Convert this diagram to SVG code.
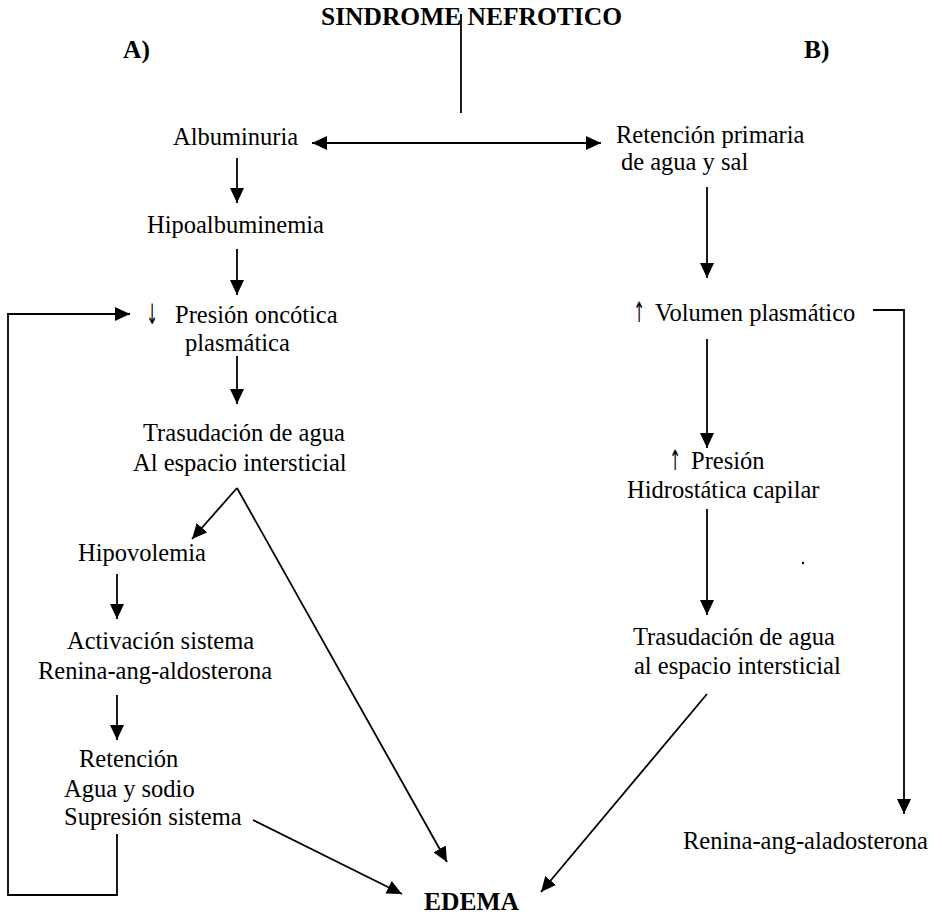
<svg xmlns="http://www.w3.org/2000/svg" width="942" height="917" viewBox="0 0 942 917">
<style>
text{font-family:"Liberation Serif","Times New Roman",serif;font-size:24.5px;fill:#000}
.b{font-weight:bold;font-size:25.5px}
.ar{font-family:"DejaVu Sans",sans-serif;font-size:28px;text-anchor:middle}
.c{fill:none;stroke:#000;stroke-width:1.8}
</style>
<defs>
<marker id="ah" markerUnits="userSpaceOnUse" markerWidth="16" markerHeight="14" refX="15" refY="7" orient="auto-start-reverse">
<path d="M0,0 L15,7 L0,14 z" fill="#000"/>
</marker>
</defs>
<rect width="942" height="917" fill="#fff"/>
<g id="title"><text class="b" x="321" y="25" textLength="301" lengthAdjust="spacingAndGlyphs">SINDROME NEFROTICO</text></g>
<g id="labelA"><text class="b" x="123" y="58">A)</text></g>
<g id="labelB"><text class="b" x="804" y="58">B)</text></g>
<g id="albuminuria"><text x="173" y="145">Albuminuria</text></g>
<g id="retencion-primaria"><text x="616" y="143">Retención primaria</text><text x="621" y="170">de agua y sal</text></g>
<g id="hipoalbuminemia"><text x="147" y="233">Hipoalbuminemia</text></g>
<g id="presion-oncotica"><text class="ar" transform="translate(152,324) scale(0.5,1)">↓</text><text x="175" y="323">Presión oncótica</text><text x="185" y="351">plasmática</text></g>
<g id="trasudacion-a"><text x="143" y="441">Trasudación de agua</text><text x="133" y="471">Al espacio intersticial</text></g>
<g id="hipovolemia"><text x="78" y="561">Hipovolemia</text></g>
<g id="activacion"><text x="67" y="649">Activación sistema</text><text x="38" y="679">Renina-ang-aldosterona</text></g>
<g id="retencion-agua"><text x="79" y="767">Retención</text><text x="64" y="797">Agua y sodio</text><text x="64" y="825">Supresión sistema</text></g>
<g id="edema"><text class="b" x="424" y="910">EDEMA</text></g>
<g id="volumen"><text class="ar" transform="translate(639,322) scale(0.5,1)">↑</text><text x="655" y="321">Volumen plasmático</text></g>
<g id="presion-hidrostatica"><text class="ar" transform="translate(675,470) scale(0.5,1)">↑</text><text x="691" y="469">Presión</text><text x="627" y="498">Hidrostática capilar</text></g>
<g id="trasudacion-b"><text x="633" y="645">Trasudación de agua</text><text x="634" y="674">al espacio intersticial</text></g>
<g id="renina-b"><text x="683" y="849">Renina-ang-aladosterona</text></g>
<g id="connectors">
<line class="c" x1="461" y1="14" x2="461" y2="113"/>
<line class="c" x1="312" y1="143" x2="601" y2="143" marker-start="url(#ah)" marker-end="url(#ah)"/>
<line class="c" x1="237" y1="158" x2="237" y2="203" marker-end="url(#ah)"/>
<line class="c" x1="237" y1="249" x2="237" y2="295" marker-end="url(#ah)"/>
<polyline class="c" points="117,834 117,895 8,895 8,314 130,314" marker-end="url(#ah)"/>
<line class="c" x1="237" y1="356" x2="237" y2="404" marker-end="url(#ah)"/>
<line class="c" x1="237" y1="488" x2="192" y2="539" marker-end="url(#ah)"/>
<line class="c" x1="237" y1="488" x2="447" y2="862" marker-end="url(#ah)"/>
<line class="c" x1="117" y1="574" x2="117" y2="619" marker-end="url(#ah)"/>
<line class="c" x1="117" y1="695" x2="117" y2="740" marker-end="url(#ah)"/>
<line class="c" x1="253" y1="820" x2="402" y2="894" marker-end="url(#ah)"/>
<line class="c" x1="707" y1="694" x2="541" y2="892" marker-end="url(#ah)"/>
<line class="c" x1="707" y1="187" x2="707" y2="278" marker-end="url(#ah)"/>
<line class="c" x1="707" y1="339" x2="707" y2="448" marker-end="url(#ah)"/>
<line class="c" x1="707" y1="509" x2="707" y2="615" marker-end="url(#ah)"/>
<polyline class="c" points="873,310 904,310 904,814" marker-end="url(#ah)"/>
<circle cx="803" cy="563" r="1.2" fill="#000"/>
</g>
</svg>
